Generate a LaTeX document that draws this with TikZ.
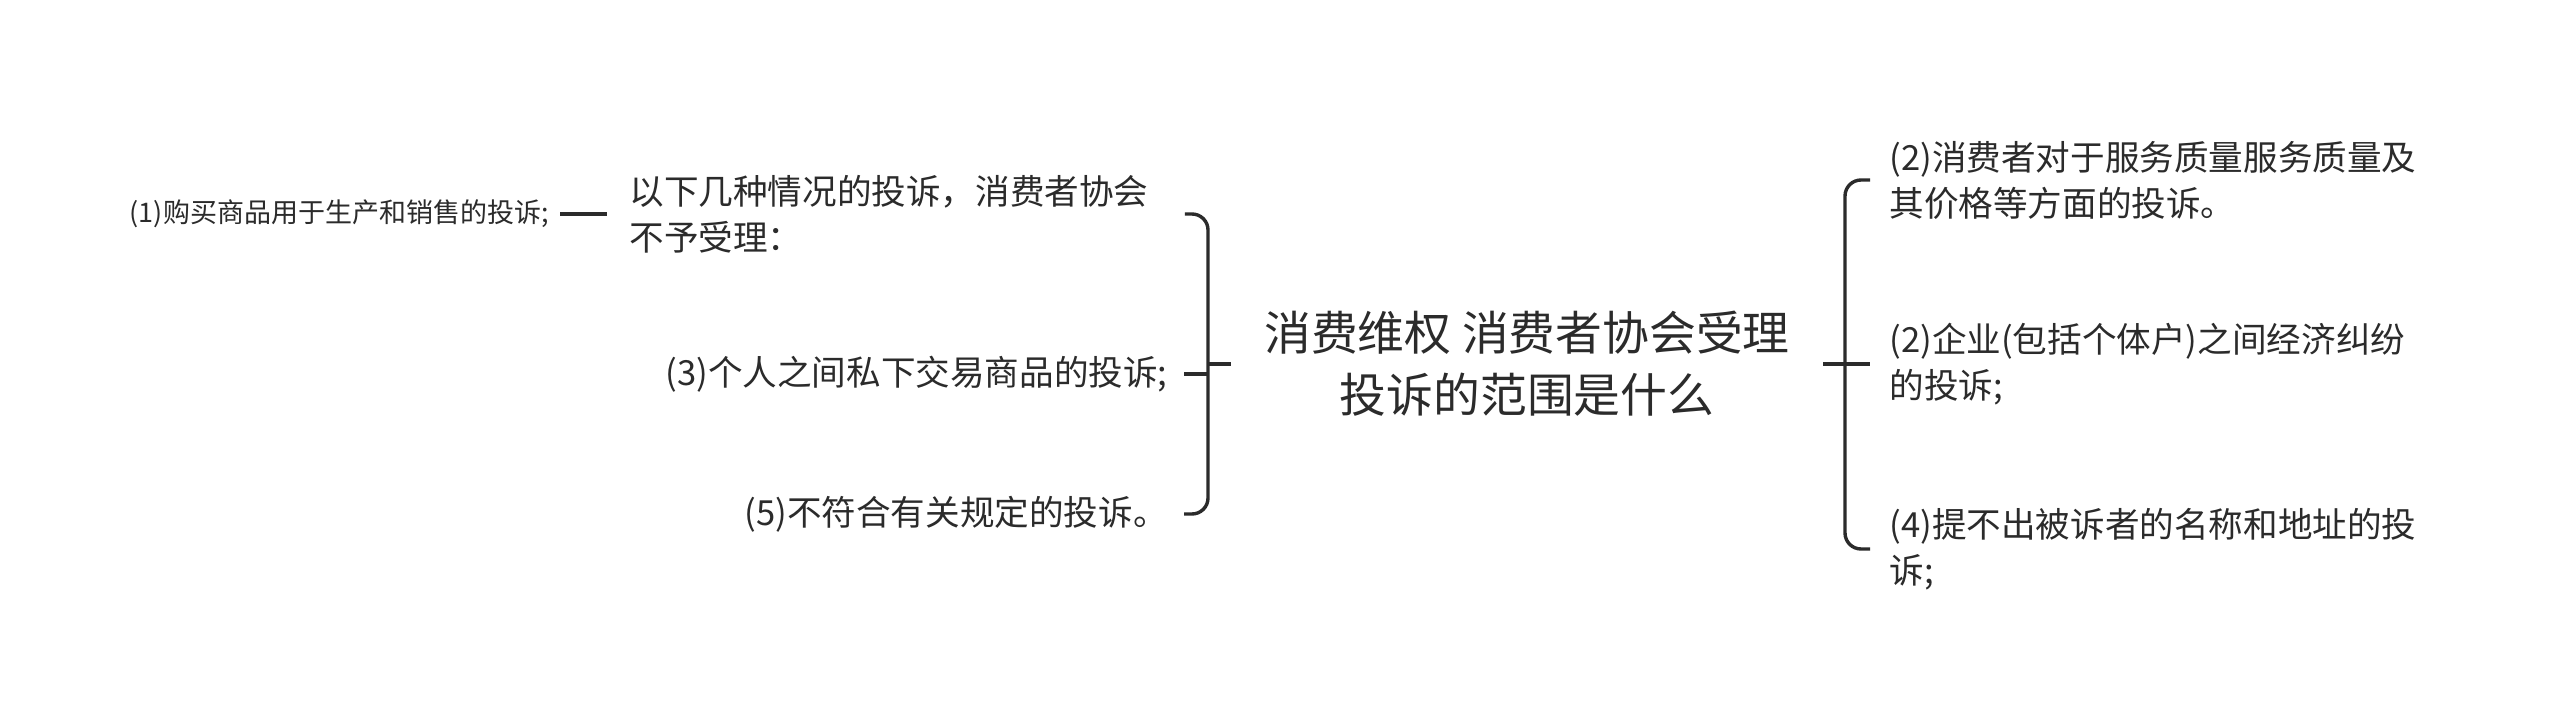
\documentclass[tikz,border=0pt]{standalone}
\usepackage{fontspec}
\newfontfamily\cjk{Noto Sans CJK SC}
\definecolor{ink}{HTML}{2B2B2B}
\begin{document}
\begin{tikzpicture}[x=0.5pt,y=-0.5pt,
  rootnode/.style={align=center,inner xsep=16.5pt,inner ysep=0pt,text=ink,font=\cjk\fontsize{23.4}{31}\selectfont},
  kidnode/.style={inner xsep=8pt,inner ysep=0pt,text=ink,font=\cjk\fontsize{17.3}{23}\selectfont},
  leafnode/.style={inner xsep=5.5pt,inner ysep=0pt,text=ink,font=\cjk\fontsize{13.5}{17}\selectfont},
  link/.style={draw=ink,line width=1.7pt},
  brace/.style={draw=ink,line width=1.7pt,rounded corners=8pt}]
\useasboundingbox[fill=white] (0,0) rectangle (2560,728);
% centre
\node[rootnode] (c) at (1527,364) {消费维权 消费者协会受理\\投诉的范围是什么};
% left side
\node[kidnode,anchor=west,align=left,inner xsep=11pt,text width=266.5pt] (a) at (607,214) {以下几种情况的投诉，消费者协会\\不予受理：};
\node[leafnode,anchor=east] (a1) at (560,214) {(1)购买商品用于生产和销售的投诉;};
\node[kidnode,anchor=east] (b) at (1184,374) {(3)个人之间私下交易商品的投诉;};
\node[kidnode,anchor=east] (d) at (1184,514) {(5)不符合有关规定的投诉。};
\coordinate (L) at (1208,364);
\draw[link] (c.west) -- (L);
\draw[brace] (a.east) -- (a.east -| L) -- (d.east -| L) -- (d.east);
\draw[link] (b.east) -- (b.east -| L);
\draw[link] (a1.east) -- (a.west);
% right side
\node[kidnode,anchor=west,align=left,inner xsep=9.5pt] (r1) at (1870,180) {(2)消费者对于服务质量服务质量及\\其价格等方面的投诉。};
\node[kidnode,anchor=west,align=left,inner xsep=9.5pt] (r2) at (1870,364) {(2)企业(包括个体户)之间经济纠纷\\的投诉;};
\node[kidnode,anchor=west,align=left,inner xsep=9.5pt] (r3) at (1870,549) {(4)提不出被诉者的名称和地址的投\\诉;};
\coordinate (R) at (1845,364);
\draw[brace] (r1.west) -- (r1.west -| R) -- (r3.west -| R) -- (r3.west);
\draw[link] (c.east) -- (r2.west);
\end{tikzpicture}
\end{document}
